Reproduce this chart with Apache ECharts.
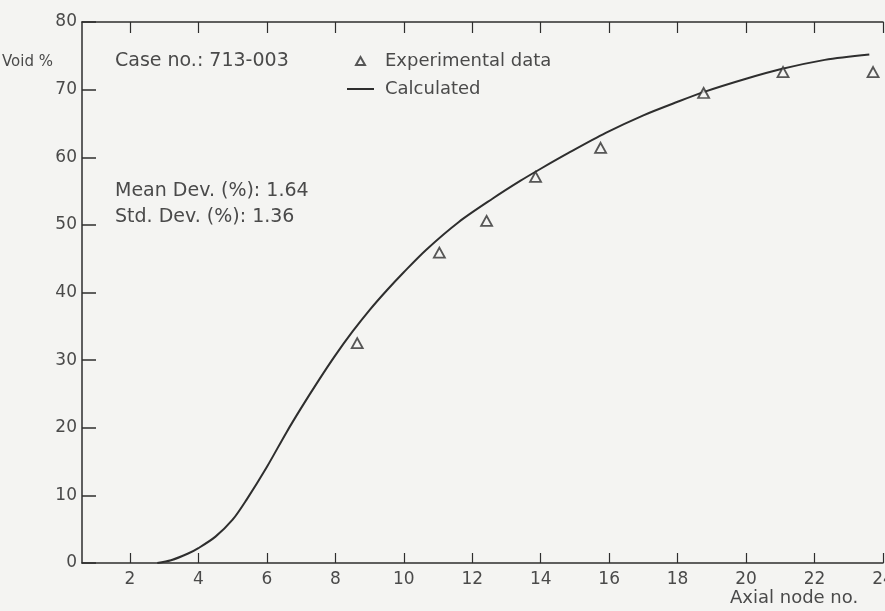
<!DOCTYPE html>
<html>
<head>
<meta charset="utf-8">
<script src="https://cdn.jsdelivr.net/npm/echarts@6/dist/echarts.min.js"></script>
<style>
  html, body { margin: 0; padding: 0; background: #f4f4f2; }
  #main { width: 885px; height: 611px; }
</style>
</head>
<body>
<div id="main"></div>
<script>
// axial node ticks
var xTicks = [2, 4, 6, 8, 10, 12, 14, 16, 18, 20, 22, 24];

// experimental data (axial node, void %)
var expX = [8.64, 11.04, 12.42, 13.85, 15.75, 18.76, 21.08, 23.71];
var expY = [32.5, 45.9, 50.6, 57.1, 61.4, 69.5, 72.6, 72.6];

// calculated curve
var calcX = [2.8, 3.2, 3.7, 4.0, 4.5, 5.0, 5.4, 6.0, 6.56, 7.0, 7.5, 8.0, 8.5, 9.0, 9.5, 10.0, 10.65, 11.6, 12.6, 13.4, 14.0, 14.8, 15.9, 17.0, 18.0, 18.8, 20.0, 21.0, 22.3, 23.6];
var calcY = [0, 0.4, 1.4, 2.2, 3.9, 6.4, 9.3, 14.2, 19.2, 22.9, 26.9, 30.7, 34.2, 37.4, 40.3, 43.0, 46.3, 50.4, 53.9, 56.5, 58.3, 60.6, 63.6, 66.2, 68.2, 69.7, 71.6, 73.0, 74.4, 75.2];

var ink = '#2e2e2e';
var textInk = '#4a4a4a';
var bg = '#f4f4f2';
var font = 'DejaVu Sans';

var chart = echarts.init(document.getElementById('main'));

var expData = expX.map(function (x, i) { return [x, expY[i]]; });
var calcData = calcX.map(function (x, i) { return [x, calcY[i]]; });

var option = {
  backgroundColor: bg,
  animation: false,
  textStyle: { fontFamily: font },
  grid: { left: 82, right: 2, top: 22, bottom: 48, containLabel: false, outerBoundsMode: 'none' },
  legend: {
    orient: 'vertical',
    left: 341,
    top: 47,
    itemWidth: 27,
    itemHeight: 10,
    itemGap: 10,
    textStyle: { fontFamily: font, fontSize: 18, color: textInk, padding: [0, 0, 0, 6] },
    data: [
      // triangle centred in a 27x10 box (M points only widen the box)
      { name: 'Experimental data', icon: 'path://M0,0 M27,10 M13.5,1 L18,9 L9,9 Z' },
      { name: 'Calculated', icon: 'path://M0,4 L27,4 L27,6 L0,6 Z' }
    ]
  },
  xAxis: [{
    type: 'value',
    min: 0.6,
    max: 24,
    axisLine: { lineStyle: { color: ink, width: 1.5 } },
    axisTick: { inside: true, length: 10, customValues: xTicks, lineStyle: { color: ink, width: 1.2 } },
    axisLabel: { customValues: xTicks, margin: 8, fontSize: 17, color: textInk, fontFamily: font },
    splitLine: { show: false }
  }, {
    type: 'value',
    position: 'top',
    min: 0.6,
    max: 24,
    axisLine: { show: true, lineStyle: { color: ink, width: 1.5 } },
    axisTick: { show: true, inside: true, length: 11, customValues: xTicks, lineStyle: { color: ink, width: 1.2 } },
    axisLabel: { show: false },
    splitLine: { show: false }
  }],
  yAxis: {
    type: 'value',
    min: 0,
    max: 80,
    interval: 10,
    axisLine: { show: true, lineStyle: { color: ink, width: 1.5 } },
    axisTick: { show: true, inside: true, length: 14, lineStyle: { color: ink, width: 1.5 } },
    axisLabel: { margin: 5, fontSize: 17, color: textInk, fontFamily: font },
    splitLine: { show: false }
  },
  graphic: [
    { type: 'text', left: 2, top: 55, style: { text: 'Void %', font: '15px "DejaVu Sans"', fill: textInk } },
    { type: 'text', left: 115, top: 52, style: { text: 'Case no.: 713-003', font: '19px "DejaVu Sans"', fill: textInk } },
    { type: 'text', left: 115, top: 182, style: { text: 'Mean Dev. (%): 1.64', font: '19px "DejaVu Sans"', fill: textInk } },
    { type: 'text', left: 115, top: 208, style: { text: 'Std. Dev. (%): 1.36', font: '19px "DejaVu Sans"', fill: textInk } },
    { type: 'text', left: 730, top: 589, style: { text: 'Axial node no.', font: '18px "DejaVu Sans"', fill: textInk } }
  ],
  series: [{
    name: 'Calculated',
    type: 'line',
    data: calcData,
    symbol: 'none',
    smooth: 0.3,
    lineStyle: { color: ink, width: 2 },
    itemStyle: { color: ink },
    z: 2
  }, {
    name: 'Experimental data',
    type: 'scatter',
    data: expData,
    symbol: 'triangle',
    symbolSize: [11, 10],
    itemStyle: { color: bg, borderColor: ink, borderWidth: 1.8 },
    z: 3
  }]
};

chart.setOption(option);
</script>
</body>
</html>
